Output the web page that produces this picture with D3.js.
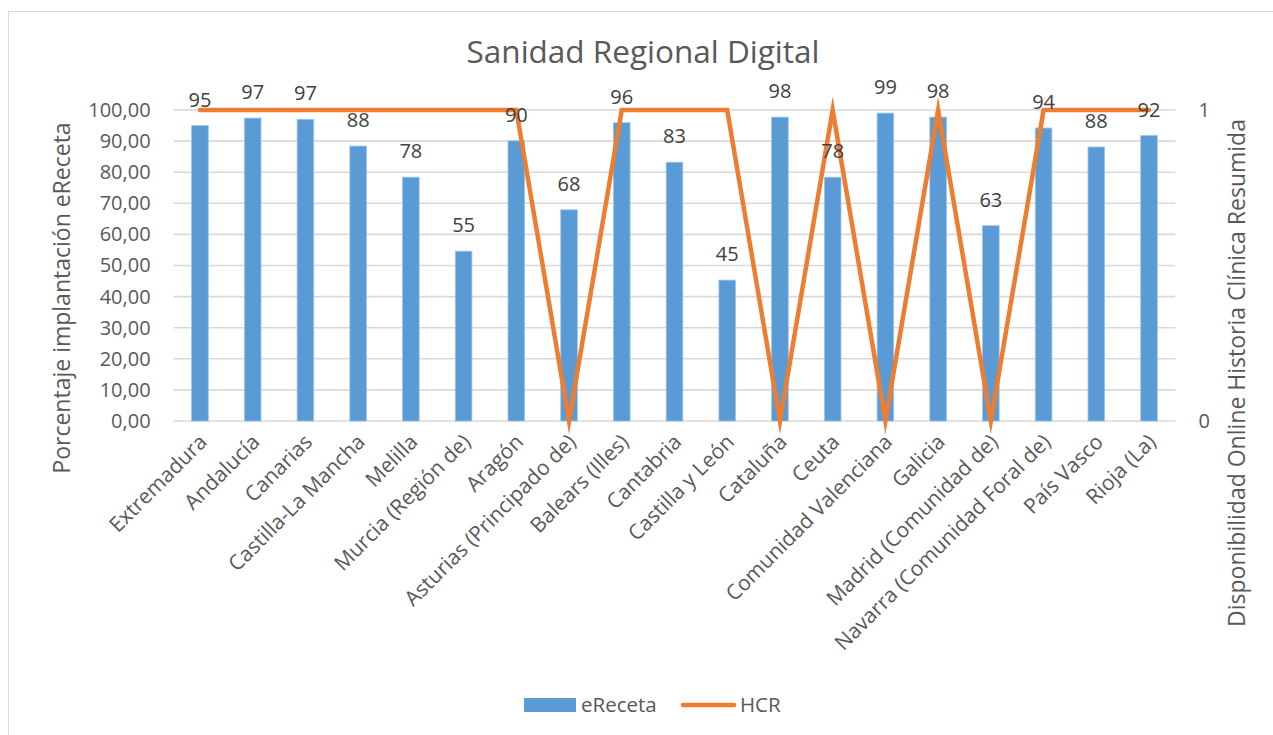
<!DOCTYPE html>
<html>
<head>
<meta charset="utf-8">
<script src="https://cdn.jsdelivr.net/npm/d3@7"></script>
<style>
  html, body { margin: 0; padding: 0; background: #fff; }
  svg { display: block; font-family: "Open Sans", sans-serif; }
  svg text { font-family: "Open Sans", sans-serif; }
</style>
</head>
<body>
<svg id="chart" width="1273" height="735"></svg>
<script>
const categories = [
  "Extremadura", "Andalucía", "Canarias", "Castilla-La Mancha", "Melilla",
  "Murcia (Región de)", "Aragón", "Asturias (Principado de)", "Balears (Illes)",
  "Cantabria", "Castilla y León", "Cataluña", "Ceuta", "Comunidad Valenciana",
  "Galicia", "Madrid (Comunidad de)", "Navarra (Comunidad Foral de)", "País Vasco", "Rioja (La)"
];
const eReceta = [95.0, 97.4, 97.0, 88.4, 78.4, 54.6, 90.1, 67.9, 95.9, 83.2, 45.3, 97.7, 78.4, 99.0, 97.7, 62.8, 94.2, 88.1, 91.8];
const hcr = [1, 1, 1, 1, 1, 1, 1, 0, 1, 1, 1, 0, 1, 0, 1, 0, 1, 1, 1];
const leftTicks = [0, 10, 20, 30, 40, 50, 60, 70, 80, 90, 100];
const rightTicks = [0, 1];
const title = "Sanidad Regional Digital";
const leftTitle = "Porcentaje implantación eReceta";
const rightTitle = "Disponibilidad Online Historia Clínica Resumida";
const seriesNames = ["eReceta", "HCR"];

const svg = d3.select("#chart");
const plot = { left: 173.6, right: 1175.4, top: 110, bottom: 421 };
const textGrey = "#595959";
const blue = "#5B9BD5";
const orange = "#ED7D31";
const gridColor = "#D9D9D9";
const FONT = "'Open Sans', sans-serif";

// chart border
svg.append("rect").attr("x", 8.5).attr("y", 11.5).attr("width", 1300).attr("height", 800)
  .attr("fill", "none").attr("stroke", gridColor).attr("stroke-width", 1);

const x = d3.scaleBand().domain(categories).range([plot.left, plot.right])
  .paddingInner(0.685).paddingOuter(0.3425);
const y = d3.scaleLinear().domain([0, 100]).range([plot.bottom, plot.top]);
const y2 = d3.scaleLinear().domain([0, 1]).range([plot.bottom, plot.top]);
const fmt = v => v.toFixed(2).replace(".", ",");

// gridlines
svg.append("g").selectAll("line").data(leftTicks).join("line")
  .attr("x1", plot.left).attr("x2", plot.right)
  .attr("y1", d => y(d)).attr("y2", d => y(d))
  .attr("stroke", gridColor).attr("stroke-width", 1.6);

// left axis
const leftAxis = svg.append("g").attr("transform", `translate(${plot.left},0)`)
  .call(d3.axisLeft(y).tickValues(leftTicks).tickFormat(fmt).tickSize(0).tickPadding(23));
leftAxis.attr("font-family", FONT).attr("font-size", null);
leftAxis.select(".domain").remove();
leftAxis.selectAll("text").attr("fill", textGrey).style("font-size", "20px");

// right axis
const rightAxis = svg.append("g").attr("transform", `translate(${plot.right},0)`)
  .call(d3.axisRight(y2).tickValues(rightTicks).tickFormat(d3.format("d")).tickSize(0).tickPadding(23));
rightAxis.attr("font-family", FONT).attr("font-size", null);
rightAxis.select(".domain").remove();
rightAxis.selectAll("text").attr("fill", textGrey).style("font-size", "20px");

// bottom axis
const bottomAxis = svg.append("g").attr("transform", `translate(0,${plot.bottom})`)
  .call(d3.axisBottom(x).tickSize(0));
bottomAxis.attr("font-family", FONT).attr("font-size", null);
bottomAxis.select(".domain").remove();
bottomAxis.selectAll("text")
  .attr("fill", textGrey).style("font-size", "21px")
  .attr("text-anchor", "end")
  .attr("dy", "0.35em")
  .attr("y", 0)
  .attr("transform", "translate(3,17) rotate(-45)");

// bars
svg.append("g").selectAll("rect").data(eReceta).join("rect")
  .attr("x", (d, i) => x(categories[i]))
  .attr("width", x.bandwidth())
  .attr("y", d => y(d))
  .attr("height", d => y(0) - y(d))
  .attr("fill", blue)
  .attr("stroke", "#9DC3E6").attr("stroke-width", 0.8);

// HCR line
const line = d3.line()
  .x((d, i) => x(categories[i]) + x.bandwidth() / 2)
  .y(d => y2(d));
svg.append("path").datum(hcr)
  .attr("d", line)
  .attr("fill", "none")
  .attr("stroke", orange)
  .attr("stroke-width", 4.5)
  .attr("stroke-linejoin", "miter")
  .attr("stroke-miterlimit", 10)
  .attr("stroke-linecap", "round");

// data labels
svg.append("g").selectAll("text").data(eReceta).join("text")
  .attr("x", (d, i) => x(categories[i]) + x.bandwidth() / 2)
  .attr("y", d => y(d) - 26)
  .attr("dy", "0.35em")
  .attr("text-anchor", "middle")
  .attr("fill", "#404040")
  .style("font-size", "20px")
  .text(d => Math.round(d));

// title
svg.append("text").attr("x", 643).attr("y", 63)
  .attr("text-anchor", "middle").attr("fill", textGrey)
  .style("font-size", "31.5px").text(title);

// axis titles
svg.append("text")
  .attr("transform", `translate(70,298) rotate(-90)`)
  .attr("text-anchor", "middle").attr("fill", textGrey)
  .style("font-size", "23px").text(leftTitle);
svg.append("text")
  .attr("transform", `translate(1245,373) rotate(-90)`)
  .attr("text-anchor", "middle").attr("fill", textGrey)
  .style("font-size", "23px").text(rightTitle);

// legend
const legend = svg.append("g");
legend.append("rect").attr("x", 524).attr("y", 698).attr("width", 52).attr("height", 14).attr("fill", blue);
legend.append("text").attr("x", 581).attr("y", 705).attr("dy", "0.35em")
  .attr("fill", textGrey).style("font-size", "20.5px").text(seriesNames[0]);
legend.append("line").attr("x1", 683).attr("x2", 734).attr("y1", 705).attr("y2", 705)
  .attr("stroke", orange).attr("stroke-width", 4.5).attr("stroke-linecap", "round");
legend.append("text").attr("x", 740).attr("y", 705).attr("dy", "0.35em")
  .attr("fill", textGrey).style("font-size", "20.5px").text(seriesNames[1]);
</script>
</body>
</html>
